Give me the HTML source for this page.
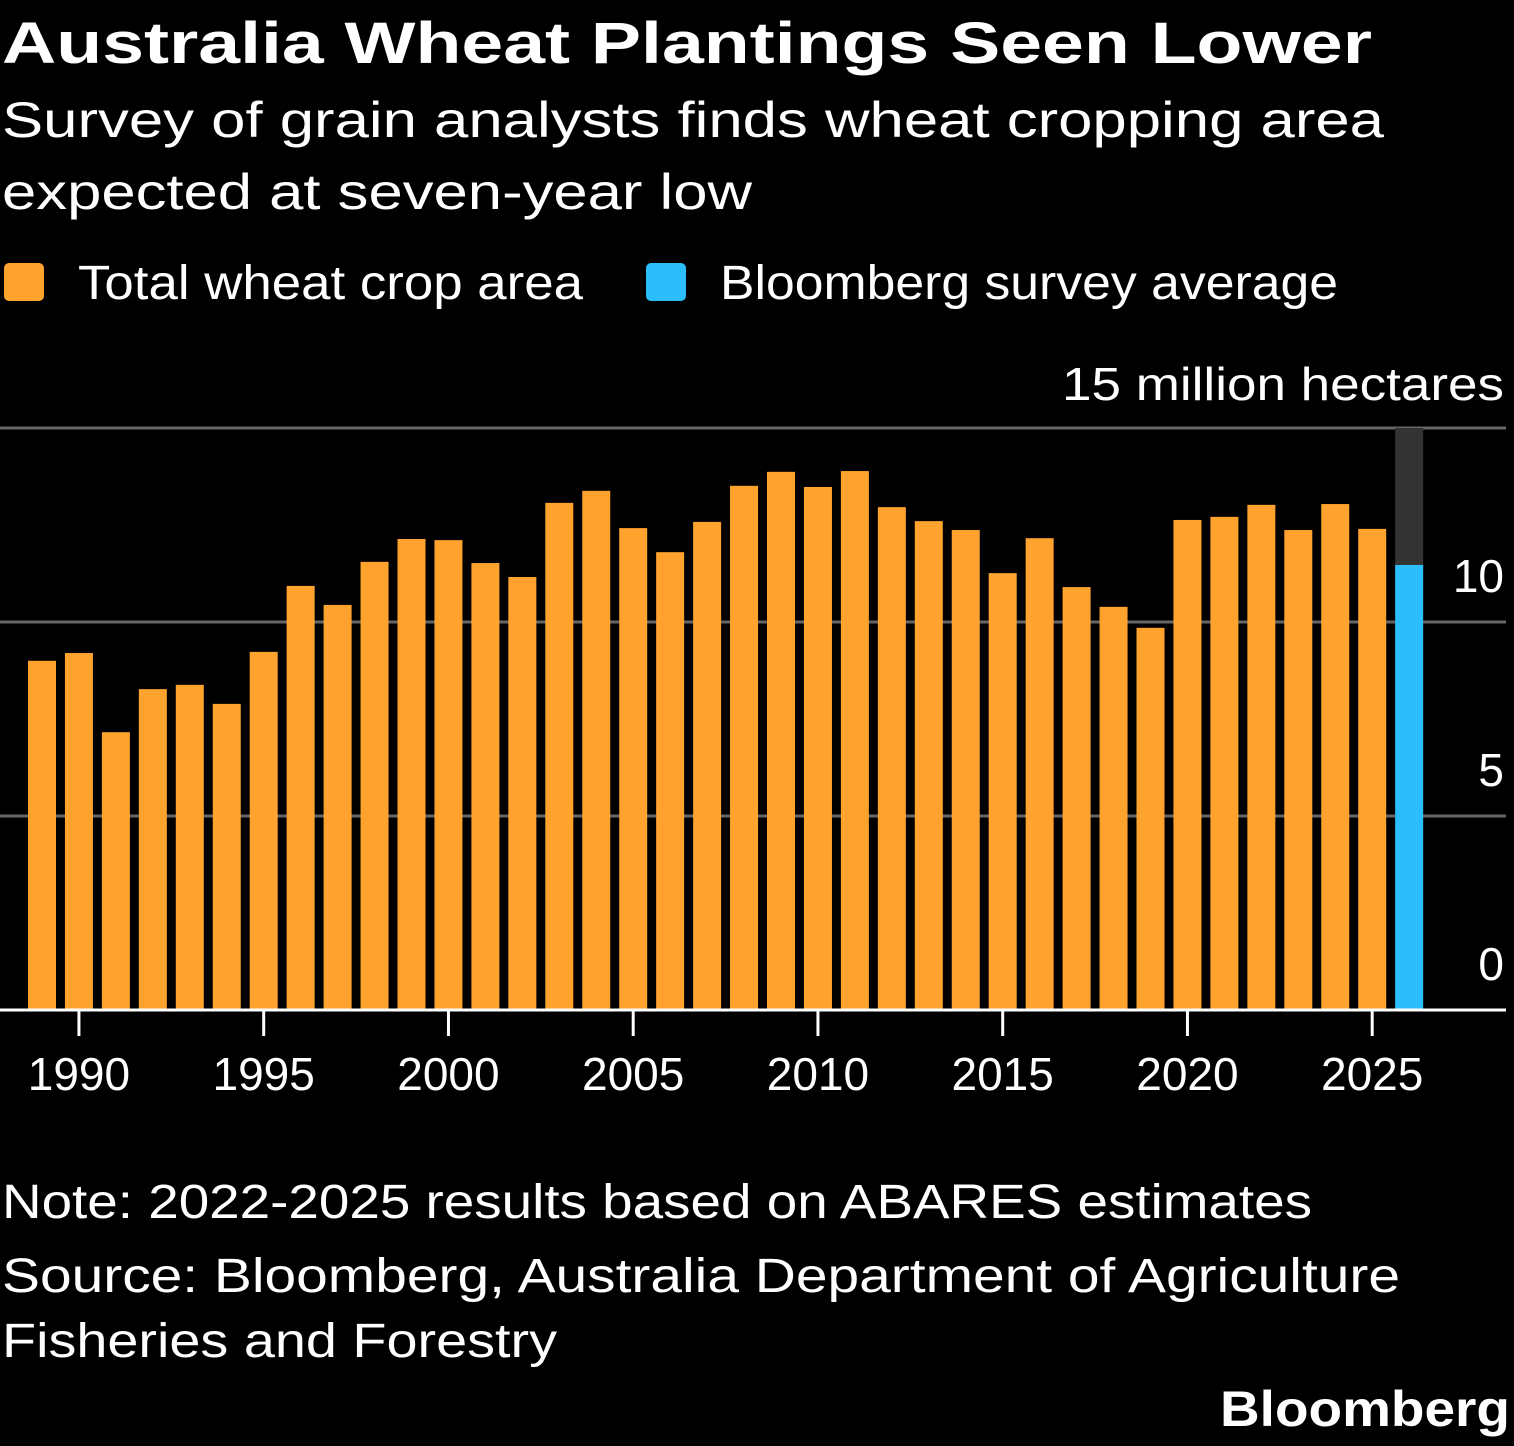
<!DOCTYPE html>
<html><head><meta charset="utf-8"><style>
html,body{margin:0;padding:0;background:#000;}
svg{display:block;}
text{font-family:"Liberation Sans","DejaVu Sans",sans-serif;fill:#fff;}
</style></head><body>
<svg id="chart" width="1514" height="1446" viewBox="0 0 1514 1446" xmlns="http://www.w3.org/2000/svg">
<rect width="1514" height="1446" fill="#000"/>
<text x="2" y="63" font-size="58" font-weight="bold" textLength="1370" lengthAdjust="spacingAndGlyphs">Australia Wheat Plantings Seen Lower</text>
<text x="2" y="137" font-size="50" textLength="1382" lengthAdjust="spacingAndGlyphs">Survey of grain analysts finds wheat cropping area</text>
<text x="2" y="209" font-size="50" textLength="750" lengthAdjust="spacingAndGlyphs">expected at seven-year low</text>
<g>
<rect x="4" y="263" width="40" height="38" rx="5" fill="#ffa22e"/>
<text x="78" y="299" font-size="48" textLength="505" lengthAdjust="spacingAndGlyphs">Total wheat crop area</text>
<rect x="646" y="263" width="40" height="38" rx="5" fill="#2cbdfb"/>
<text x="720" y="299" font-size="48" textLength="618" lengthAdjust="spacingAndGlyphs">Bloomberg survey average</text>
</g>
<text x="1504" y="400" font-size="46" text-anchor="end" textLength="442" lengthAdjust="spacingAndGlyphs">15 million hectares</text>
<g id="grid"></g>
<g id="bars"></g>
<g id="xaxis"></g>
<text x="2" y="1218" font-size="48" textLength="1310" lengthAdjust="spacingAndGlyphs">Note: 2022-2025 results based on ABARES estimates</text>
<text x="2" y="1292" font-size="48" textLength="1398" lengthAdjust="spacingAndGlyphs">Source: Bloomberg, Australia Department of Agriculture</text>
<text x="2" y="1357" font-size="48" textLength="555" lengthAdjust="spacingAndGlyphs">Fisheries and Forestry</text>
<text x="1510" y="1426" font-size="50" font-weight="bold" text-anchor="end" textLength="290" lengthAdjust="spacingAndGlyphs">Bloomberg</text>
</svg>
<script>
const years = [1989,1990,1991,1992,1993,1994,1995,1996,1997,1998,1999,2000,2001,2002,2003,2004,2005,2006,2007,2008,2009,2010,2011,2012,2013,2014,2015,2016,2017,2018,2019,2020,2021,2022,2023,2024,2025];
const totalArea = [9.0,9.2,7.16,8.27,8.38,7.89,9.23,10.93,10.44,11.55,12.14,12.11,11.52,11.16,13.07,13.38,12.42,11.8,12.58,13.51,13.87,13.48,13.89,12.96,12.6,12.37,11.26,12.16,10.9,10.39,9.85,12.63,12.71,13.02,12.37,13.04,12.4];
const surveyYear = [2026];
const surveyAvg = [11.47];
const yTicks = [0,5,10,15];
const xTicks = [1990,1995,2000,2005,2010,2015,2020,2025];

const NS = "http://www.w3.org/2000/svg";
const y = v => 1010 - v * 38.8;
const x = yr => 42 + (yr - 1989) * 36.95;
const bw = 28;
function mk(tag, attrs, parent){const e=document.createElementNS(NS,tag);for(const k in attrs)e.setAttribute(k,attrs[k]);document.getElementById(parent).appendChild(e);return e;}

yTicks.forEach(t=>{
  if(t>0){
    const l=mk('line',{x1:0,x2:1506,y1:y(t),y2:y(t),stroke:'#666','stroke-width':3},'grid');
    
    
  }
  if(t<15){
    const tx=mk('text',{x:1504,y:y(t)-30,'font-size':46,'text-anchor':'end'},'grid');
    tx.textContent=t;
    
    
  }
});
// forecast highlight background
surveyYear.forEach(yr=>{
  const r=mk('rect',{x:x(yr)-bw/2,y:y(15),width:bw,height:y(0)-y(15),fill:'#333'},'bars');
  
  
});
years.forEach((yr,i)=>{
  const r=mk('rect',{x:x(yr)-bw/2,y:y(totalArea[i]),width:bw,height:y(0)-y(totalArea[i]),fill:'#ffa22e'},'bars');
  
  
});
surveyYear.forEach((yr,i)=>{
  const r=mk('rect',{x:x(yr)-bw/2,y:y(surveyAvg[i]),width:bw,height:y(0)-y(surveyAvg[i]),fill:'#2cbdfb'},'bars');
  
  
});
const base=mk('line',{x1:0,x2:1506,y1:y(0),y2:y(0),stroke:'#fff','stroke-width':3},'xaxis');


xTicks.forEach(t=>{
  const l=mk('line',{x1:x(t),x2:x(t),y1:y(0),y2:y(0)+26,stroke:'#fff','stroke-width':3},'xaxis');
  
  
  const tx=mk('text',{x:x(t),y:1090,'font-size':46,'text-anchor':'middle'},'xaxis');
  tx.textContent=t;
  
  
});
</script>
</body></html>
